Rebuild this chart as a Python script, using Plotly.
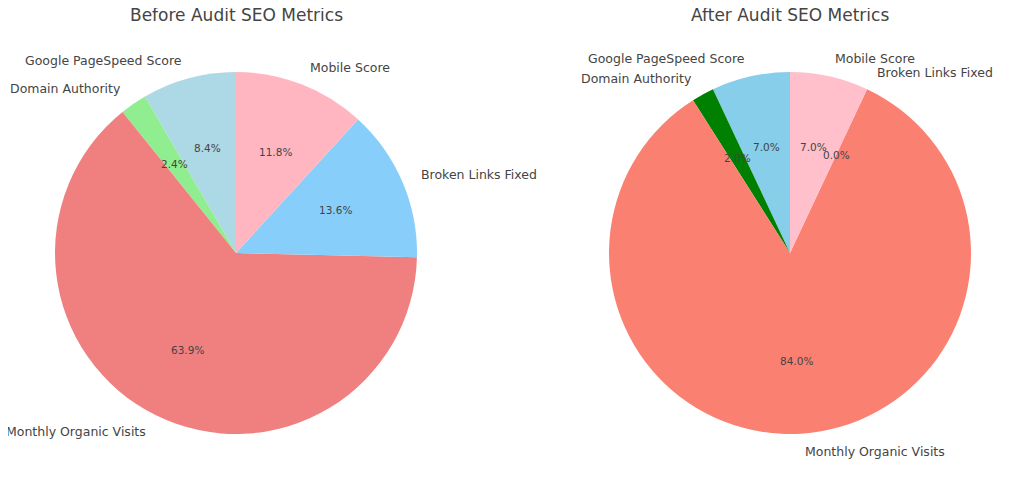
import numpy as np
import plotly.graph_objects as go

# Metric names in slice order (counterclockwise from 12 o'clock)
labels = ["Google PageSpeed Score", "Domain Authority", "Monthly Organic Visits",
          "Broken Links Fixed", "Mobile Score"]

# Share of each metric (%) as printed on the slices
before_pct = [8.4, 2.4, 63.9, 13.6, 11.8]
after_pct = [7.0, 2.0, 84.0, 0.0, 7.0]

before_colors = ["#ADD8E6", "#90EE90", "#F08080", "#87CEFA", "#FFB6C1"]
after_colors = ["#87CEEB", "#008000", "#FA8072", "#FFD700", "#FFC0CB"]

titles = ["Before Audit SEO Metrics", "After Audit SEO Metrics"]

W, H = 1024, 488
R = 181      # pie radius in px
EXT = 1.25   # text axis half-range, in pie radii
OFF = 8      # page body margin
centers = [(236 - OFF, 253 - OFF), (790 - OFF, 253 - OFF)]

TXT = "#444444"
FONT = "DejaVu Sans"

fig = go.Figure()


def domains(cx, cy, r):
    xd = [(cx - r) / W, (cx + r) / W]
    yd = [(H - cy - r) / H, (H - cy + r) / H]
    return xd, yd


def slice_angles(vals):
    vals = np.array(vals, dtype=float)
    cum = np.cumsum(vals) - vals / 2
    return np.deg2rad(90 + 360 * cum / vals.sum())


axis_common = dict(range=[-EXT, EXT], visible=False, fixedrange=True)
layout_axes = {}

for i, (vals, cols) in enumerate([(before_pct, before_colors), (after_pct, after_colors)]):
    cx, cy = centers[i]
    xd, yd = domains(cx, cy, R)
    # plotly ends the first ccw slice at 12 o'clock; shift so it starts there
    rot = -360 * vals[0] / sum(vals)
    fig.add_trace(go.Pie(
        labels=labels, values=vals, sort=False, direction="counterclockwise",
        rotation=rot, marker=dict(colors=cols, line=dict(width=0)),
        textinfo="none", hoverinfo="label+value", showlegend=False,
        domain=dict(x=xd, y=yd),
    ))

    ax = "" if i == 0 else "2"
    axd_x, axd_y = domains(cx, cy, R * EXT)
    layout_axes["xaxis" + ax] = dict(domain=axd_x, anchor="y" + ax, **axis_common)
    layout_axes["yaxis" + ax] = dict(domain=axd_y, anchor="x" + ax, **axis_common)

    # invisible scatter just to hold the axis
    fig.add_trace(go.Scatter(
        x=[0], y=[0], mode="markers", marker=dict(opacity=0),
        xaxis="x" + ax, yaxis="y" + ax, showlegend=False, hoverinfo="skip",
    ))

    ang = slice_angles(vals)
    for lab, v, a in zip(labels, vals, ang):
        # percentage at 0.6 r
        fig.add_annotation(
            x=0.6 * np.cos(a), y=0.6 * np.sin(a), xref="x" + ax, yref="y" + ax,
            text=f"{v:.1f}%", showarrow=False,
            font=dict(family=FONT, size=10.5, color=TXT),
            xanchor="center", yanchor="middle",
        )
        # label at 1.1 r
        lx = 1.1 * np.cos(a)
        fig.add_annotation(
            x=lx, y=1.1 * np.sin(a), xref="x" + ax, yref="y" + ax,
            text=lab, showarrow=False,
            font=dict(family=FONT, size=12.5, color=TXT),
            xanchor="left" if lx > 0 else "right", yanchor="middle",
        )

    fig.add_annotation(
        text=titles[i], x=cx / W, y=(H - (15 - OFF)) / H, xref="paper", yref="paper",
        showarrow=False, font=dict(family=FONT, size=17, color=TXT),
        xanchor="center", yanchor="middle",
    )

fig.update_layout(
    width=W, height=H,
    margin=dict(l=0, r=0, t=0, b=0),
    paper_bgcolor="white", plot_bgcolor="rgba(0,0,0,0)",
    font=dict(family=FONT, color=TXT),
    **layout_axes,
)

fig.write_html("out.html")
